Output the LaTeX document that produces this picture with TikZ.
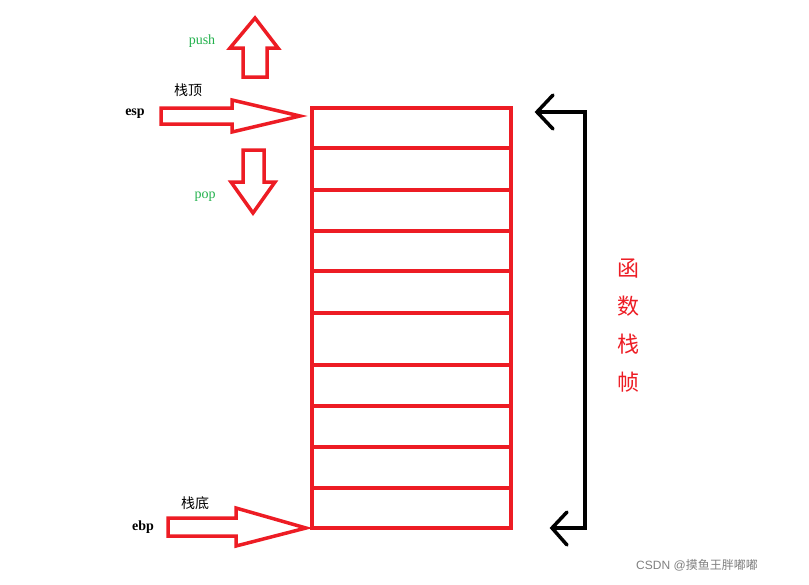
\documentclass[tikz,border=0pt]{standalone}
\usepackage{fontspec}
\setmainfont{Liberation Serif}
\newfontfamily\cjk{Noto Sans CJK SC}
\begin{document}
\begin{tikzpicture}[x=1pt,y=-1pt,
  redl/.style={draw={rgb,255:red,237;green,28;blue,36},line width=3.5pt,line join=miter},
  blk/.style={draw=black,line width=3.5pt},
  lbl/.style={font=\fontsize{14}{14}\selectfont},
  grn/.style={lbl,text={rgb,255:red,34;green,177;blue,76}}]
\useasboundingbox (0,0) rectangle (809,584);
\definecolor{sred}{RGB}{237,28,36}
% stack
\draw[redl] (312,108) rectangle (511,528);
\foreach \y in {148,190,231,271,313,365,406,447,488}
  \draw[redl] (312,\y) -- (511,\y);
\coordinate (top) at (300,116);
\coordinate (bot) at (306,528);
% esp arrow
\draw[redl] (161,108) -- (232,108) -- (232,100) -- (top) -- (232,132) -- (232,124) -- (161,124) -- cycle;
% ebp arrow
\draw[redl] (168,518) -- (236,518) -- (236,508) -- (bot) -- (236,546) -- (236,536) -- (168,536) -- cycle;
% push
\draw[redl] (243,77) -- (243,48) -- (230,48) -- (255,18) -- (278,48) -- (267,48) -- (267,77) -- cycle;
% pop
\draw[redl] (243,150) -- (243,182) -- (231,182) -- (253,213) -- (275,182) -- (264,182) -- (264,150) -- cycle;
% bracket
\draw[blk] (537,112) -- (585,112) -- (585,528) -- (553,528);
\draw[blk,line cap=round] (553,95) -- (537,112) -- (553,129);
\draw[blk,line cap=round] (567,512) -- (552,528) -- (567,545);
% labels
\node[grn] (push) at (202,41) {push};
\node[grn] (pop) at (205,197) {pop};
\node[lbl] (esp) at (135,114) {\bfseries esp};
\node[lbl] (ebp) at (143,527) {\bfseries ebp};
\node[lbl] (zd) at (188,90) {\cjk 栈顶};
\node[lbl] (zb) at (195,503) {\cjk 栈底};
\node[text=sred,font=\cjk\fontsize{22}{38}\selectfont,align=center] (fr) at (628,326) {函\\数\\栈\\帧};
\node[text=gray,font=\fontsize{12}{12}\selectfont] (wm) at (697,565) {\fontspec{Liberation Sans}CSDN @\cjk 摸鱼王胖嘟嘟};
\end{tikzpicture}
\end{document}
